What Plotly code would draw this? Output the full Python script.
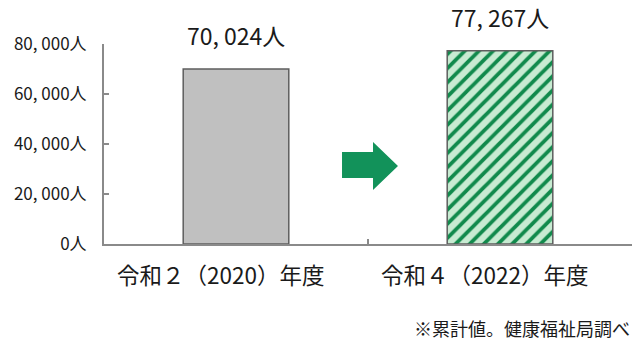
import plotly.graph_objects as go

# Data
categories = ["令和２（2020）年度", "令和４（2022）年度"]
visitors = [70024, 77267]
y_ticks = [0, 20000, 40000, 60000, 80000]
y_tick_labels = ["0人", "20, 000人", "40, 000人", "60, 000人", "80, 000人"]
source_note = "※累計値。健康福祉局調べ"

FONT = "Noto Sans CJK JP, Noto Sans, sans-serif"
AXIS_GRAY = "#8a8a8a"
TEXT = "#1a1a1a"
BAR_EDGE = dict(color="#5e5e5e", width=1.5)


def fmt_people(v):
    return f"{v:,}".replace(",", ", ") + "人"


fig = go.Figure()

# 2020: plain grey bar
fig.add_trace(go.Bar(
    x=[categories[0]], y=[visitors[0]], width=0.4,
    marker=dict(color="#c0c0c0", line=BAR_EDGE),
    hoverinfo="skip",
))

# 2022: green diagonal-striped bar
fig.add_trace(go.Bar(
    x=[categories[1]], y=[visitors[1]], width=0.4,
    marker=dict(
        color="#c8ebd2", line=BAR_EDGE,
        pattern=dict(shape="/", fgcolor="#118a4c", fgopacity=1,
                     bgcolor="#c8ebd2", size=10, solidity=0.38,
                     fillmode="overlay"),
    ),
    hoverinfo="skip",
))

# Value labels above each bar
for cat, val in zip(categories, visitors):
    fig.add_annotation(
        x=cat, y=val, text=fmt_people(val),
        showarrow=False, yanchor="bottom", yshift=15,
        font=dict(family=FONT, size=23, color=TEXT),
    )

# Category labels under the axis
for cat in categories:
    fig.add_annotation(
        x=cat, y=0, text=cat,
        showarrow=False, yanchor="top", xshift=-16, yshift=-12,
        font=dict(family=FONT, size=22.5, color=TEXT),
    )

# Green arrow between the two bars (paper coordinates)
arrow_pts = [
    (0.4508, 0.46), (0.5095, 0.46), (0.5095, 0.51), (0.5568, 0.39),
    (0.5095, 0.27), (0.5095, 0.33), (0.4508, 0.33),
]
path = "M " + " L ".join(f"{x},{y}" for x, y in arrow_pts) + " Z"
fig.add_shape(type="path", xref="paper", yref="paper", path=path,
              fillcolor="#12925a", line=dict(width=0))

# Source note
fig.add_annotation(
    xref="paper", yref="paper", x=1.0, y=-0.345,
    xanchor="right", yanchor="top", text=source_note, showarrow=False,
    font=dict(family=FONT, size=18, color=TEXT),
)

fig.update_layout(
    width=639, height=340, autosize=False,
    margin=dict(l=104, r=7, t=44, b=96),
    paper_bgcolor="white", plot_bgcolor="white",
    showlegend=False, barmode="overlay",
    font=dict(family=FONT, color=TEXT),
    xaxis=dict(
        type="category", range=[-0.5, 1.5],
        categoryorder="array", categoryarray=categories,
        showline=True, linecolor=AXIS_GRAY, linewidth=2,
        ticks="inside", tickson="boundaries", ticklen=5,
        tickcolor=AXIS_GRAY, tickwidth=2,
        showticklabels=False,
        showgrid=False, zeroline=False, fixedrange=True,
    ),
    yaxis=dict(
        range=[0, 80000],
        tickvals=y_ticks, ticktext=y_tick_labels,
        showline=True, linecolor=AXIS_GRAY, linewidth=2,
        ticks="inside", ticklen=5, tickcolor=AXIS_GRAY, tickwidth=2,
        tickfont=dict(family=FONT, size=17, color=TEXT),
        ticklabelstandoff=12,
        showgrid=False, zeroline=False, fixedrange=True,
    ),
)

fig.write_html("out.html")
